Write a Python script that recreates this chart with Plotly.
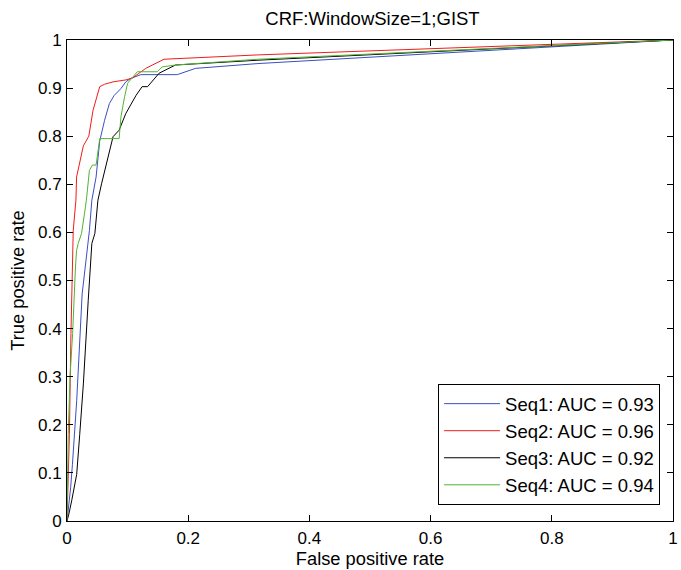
import plotly.graph_objects as go

# ROC 曲线数据
seq1_fpr = [0, .006, .009, .016, .025, .037, .041, .048, .054, .062, .070, .078, .089, .097, .105, .122, .182, .212, .315, 1]
seq1_tpr = [0, .069, .118, .25, .472, .604, .667, .715, .79, .833, .868, .885, .899, .913, .92, .928, .928, .941, .951, 1]

seq2_fpr = [0, .002, .004, .0065, .0093, .0103, .0147, .0158, .027, .036, .043, .054, .062, .076, .097, .108, .13, .16, .315, 1]
seq2_tpr = [0, .09, .18, .39, .5625, .604, .667, .715, .78, .80, .854, .903, .908, .913, .917, .921, .941, .96, .969, 1]

seq3_fpr = [0, .003, .0077, .016, .021, .027, .035, .041, .046, .051, .057, .065, .076, .086, .097, .105, .114, .124, .133, .152, .179, .315, 1]
seq3_tpr = [0, .014, .042, .097, .18, .285, .458, .577, .598, .667, .701, .743, .799, .8125, .847, .865, .885, .903, .903, .931, .948, .958, 1]

seq4_fpr = [0, .002, .005, .0093, .014, .0158, .0185, .024, .029, .032, .037, .042, .048, .054, .086, .089, .095, .10, .116, .149, .157, .179, .315, 1]
seq4_tpr = [0, .18, .30, .39, .528, .5625, .577, .598, .64, .667, .729, .74, .74, .795, .795, .84, .882, .91, .934, .934, .944, .948, .96, 1]

names = ["Seq1: AUC = 0.93", "Seq2: AUC = 0.96", "Seq3: AUC = 0.92", "Seq4: AUC = 0.94"]
colors = ["#3a4fc0", "#f01c1c", "#000000", "#4fb531"]

x_ticks = [0, .2, .4, .6, .8, 1]
x_ticktext = ["0", "0.2", "0.4", "0.6", "0.8", "1"]
y_ticks = [i / 10 for i in range(11)]
y_ticktext = ["0", "0.1", "0.2", "0.3", "0.4", "0.5", "0.6", "0.7", "0.8", "0.9", "1"]

FONT = "Liberation Sans, Arial, Helvetica, sans-serif"

fig = go.Figure()
for xs, ys, nm, c in zip([seq1_fpr, seq2_fpr, seq3_fpr, seq4_fpr],
                         [seq1_tpr, seq2_tpr, seq3_tpr, seq4_tpr], names, colors):
    fig.add_trace(go.Scatter(x=xs, y=ys, mode="lines", name=nm,
                             line=dict(color=c, width=1)))

axis_common = dict(
    showgrid=False, zeroline=False, showline=True, linecolor="black", linewidth=1,
    mirror="ticks", ticks="inside", ticklen=6, tickcolor="black",
    tickfont=dict(family=FONT, size=17, color="black"), ticklabeloverflow="allow",
)
title_font = dict(family=FONT, size=18.3, color="black")

fig.update_layout(
    width=681, height=570,
    margin=dict(l=67, r=3, t=40, b=49),
    paper_bgcolor="white", plot_bgcolor="white",
    font=dict(family=FONT, color="black", size=17),
    title=dict(text="CRF:WindowSize=1;GIST", x=(67 + 678) / 2 / 681, xanchor="center",
               y=1 - 19 / 570, yanchor="middle", yref="container",
               font=dict(family=FONT, size=18.5, color="black")),
    xaxis=dict(range=[0, 1], tickvals=x_ticks, ticktext=x_ticktext,
               ticklabelstandoff=2,
               title=dict(text="False positive rate", font=title_font, standoff=0),
               **axis_common),
    yaxis=dict(range=[0, 1], tickvals=y_ticks, ticktext=y_ticktext,
               ticklabelstandoff=1,
               title=dict(text="True positive rate", font=title_font, standoff=8),
               **axis_common),
    legend=dict(x=0.9787, y=0.033, xanchor="right", yanchor="bottom",
                bgcolor="white", bordercolor="black", borderwidth=1,
                font=dict(family=FONT, size=18.5, color="black"),
                tracegroupgap=0, itemwidth=56),
    showlegend=True,
)

fig.write_html("out.html", config={"displayModeBar": False},
               post_script="document.body.style.margin='0';")
